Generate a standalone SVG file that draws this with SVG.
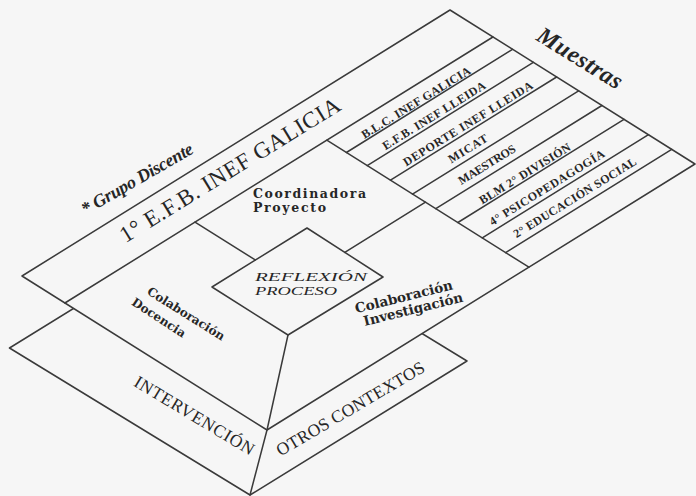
<svg xmlns="http://www.w3.org/2000/svg" width="696" height="496" viewBox="0 0 696 496">
<style>
.ln{fill:none;stroke:#3a3a3a;stroke-width:1.5;stroke-linejoin:round;stroke-linecap:round}
.pl{fill:#f6f6f6;stroke:#3a3a3a;stroke-width:1.5;stroke-linejoin:round}
.t{fill:#262626;font-family:"Liberation Serif","Times New Roman",serif}
.b{fill:#262626;font-family:"DejaVu Serif","Liberation Serif",serif;font-weight:bold}
.s{font-size:12px;font-weight:bold}
.h{font-style:italic;font-weight:bold}
</style>
<rect width="696" height="496" fill="#f6f6f6"/>

<g id="lower-plane">
  <polygon class="pl" points="9.5,348 250,495 467,361 226.5,214"/>
  <text class="t" font-size="17.5" textLength="137" transform="translate(132.7,385.3) rotate(31)">INTERVENCIÓN</text>
  <text class="t" font-size="17.5" textLength="169" transform="translate(280.6,456.6) rotate(-30.5)">OTROS CONTEXTOS</text>
</g>

<g id="upper-plane">
  <polygon class="pl" points="22,276 450,10 695,164 267,430"/>
</g>

<g id="grupo-discente">
  <line class="ln" x1="64.9" y1="303" x2="492.9" y2="37"/>
  <text class="t h" font-size="18" textLength="126" transform="translate(85.6,215.4) rotate(-30)">* Grupo Discente</text>
  <text class="t" font-size="23" textLength="255" transform="translate(125.5,243.2) rotate(-31.7)">1° E.F.B. INEF GALICIA</text>
</g>

<g id="muestras">
  <line class="ln" x1="326.8" y1="140.2" x2="528.9" y2="267.2"/>
  <line class="ln" x1="346.4" y1="152.5" x2="512.5" y2="49.3"/>
  <line class="ln" x1="367.2" y1="165.6" x2="533.3" y2="62.4"/>
  <line class="ln" x1="390.5" y1="180.2" x2="556.6" y2="77"/>
  <line class="ln" x1="412.5" y1="194.1" x2="578.6" y2="90.9"/>
  <line class="ln" x1="435.8" y1="208.7" x2="601.9" y2="105.5"/>
  <line class="ln" x1="457.9" y1="222.5" x2="624" y2="119.3"/>
  <line class="ln" x1="482.3" y1="237.9" x2="648.5" y2="134.7"/>
  <line class="ln" x1="505.6" y1="252.6" x2="671.7" y2="149.4"/>
  <text class="t h" font-size="24" textLength="96" transform="translate(535,39.4) rotate(31.8)">Muestras</text>
  <g class="t s" text-anchor="middle">
    <text textLength="126" transform="translate(418,106) rotate(-31.7)">B.L.C. INEF GALICIA</text>
    <text textLength="119" transform="translate(436,119) rotate(-31.7)">E.F.B. INEF LLEIDA</text>
    <text textLength="150" transform="translate(470,127) rotate(-31.7)">DEPORTE INEF LLEIDA</text>
    <text textLength="44" transform="translate(470,152) rotate(-31.7)">MICAT</text>
    <text textLength="65" transform="translate(489,168) rotate(-31.7)">MAESTROS</text>
    <text textLength="105" transform="translate(527,177) rotate(-31.7)">BLM 2° DIVISIÓN</text>
    <text textLength="133" transform="translate(549,191) rotate(-31.7)">4° PSICOPEDAGOGÍA</text>
    <text textLength="142" transform="translate(577,201) rotate(-31.7)">2° EDUCACIÓN SOCIAL</text>
  </g>
</g>

<g id="coordinadora">
  <text class="b" font-size="12.5" x="253" y="198" textLength="113">Coordinadora</text>
  <text class="b" font-size="12.5" x="253" y="212" textLength="73">Proyecto</text>
</g>

<g id="reflexion">
  <polygon class="pl" points="307,228 383,277 288,335 212,287"/>
  <text class="t" font-style="italic" font-size="12.5" x="255" y="281" textLength="112" lengthAdjust="spacingAndGlyphs">REFLEXIÓN</text>
  <text class="t" font-style="italic" font-size="12.5" x="255" y="295" textLength="82" lengthAdjust="spacingAndGlyphs">PROCESO</text>
</g>

<g id="colaboracion-docencia">
  <text class="b" font-size="12" transform="translate(146.2,293.6) rotate(32)">Colaboración</text>
  <text class="b" font-size="12" transform="translate(130.7,304.3) rotate(33)">Docencia</text>
</g>

<g id="colaboracion-investigacion">
  <text class="b" font-size="13.5" transform="translate(356.3,313.3) rotate(-14)">Colaboración</text>
  <text class="b" font-size="13.5" transform="translate(364.8,326) rotate(-14)">Investigación</text>
</g>

<g id="connectors">
  <line class="ln" x1="195" y1="222.1" x2="255.2" y2="259.9"/>
  <line class="ln" x1="344.8" y1="252.4" x2="425.5" y2="202.2"/>
  <polyline class="ln" points="288,335 267,430 250,495"/>
</g>
</svg>
